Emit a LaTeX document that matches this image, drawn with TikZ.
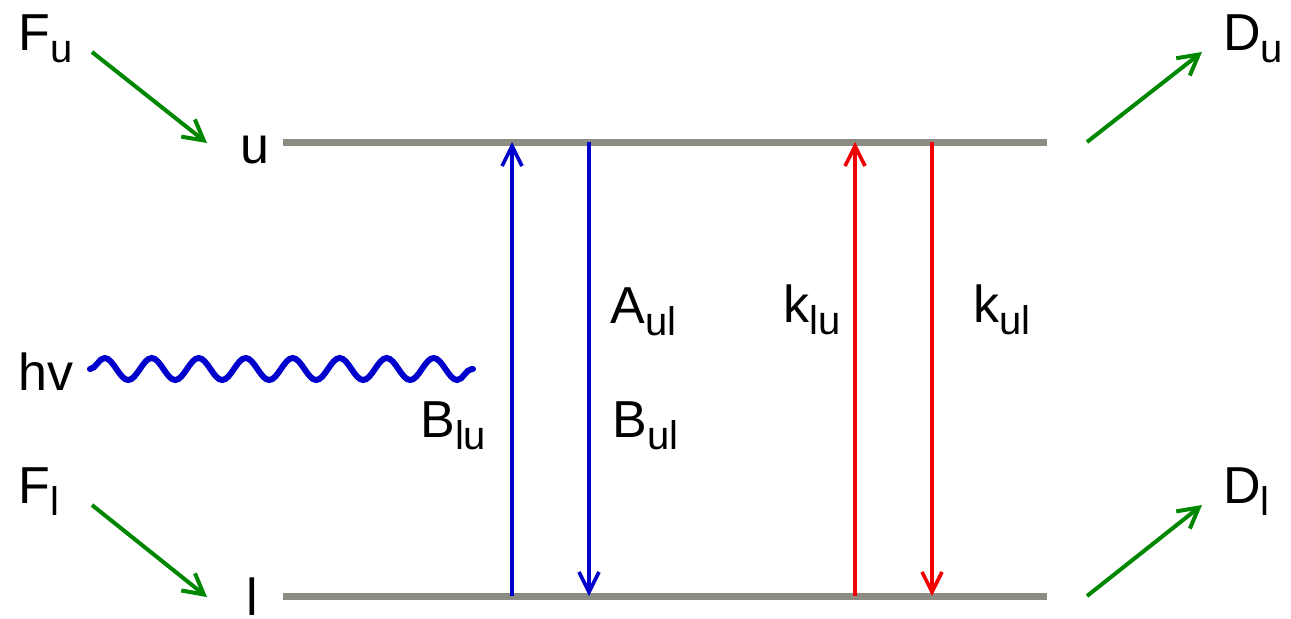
\documentclass[tikz,border=0pt]{standalone}
\usepackage{fontspec}
\setmainfont{Liberation Sans}
\usepackage{tikz}
\usetikzlibrary{
    arrows.meta,
    decorations.pathmorphing
}

\definecolor{levelgray}{RGB}{140,140,130}
\definecolor{flowgreen}{RGB}{0,135,0}
\definecolor{radblue}{RGB}{0,0,205}
\definecolor{collred}{RGB}{240,0,0}

\newcommand{\lo}[1]{\raisebox{-6pt}{\fontsize{20}{20}\selectfont #1}}

\tikzset{
    lbl/.style={anchor=base west,inner sep=0pt,font=\fontsize{26}{30}\selectfont},
    level/.style={levelgray,line width=3.5pt},
    flow/.style={flowgreen,line width=2pt,-{Straight Barb[length=10pt,width=11pt]}},
    trans/.style={line width=1.8pt,-{Straight Barb[length=10pt,width=10pt]}}
}

\begin{document}
\begin{tikzpicture}[x=0.5pt,y=-0.5pt]
\useasboundingbox (0,0) rectangle (1291,618);

% Energy levels
\coordinate (u0) at (283,142);
\coordinate (u1) at (1047,142);
\coordinate (l0) at (283,596);
\coordinate (l1) at (1047,596);
\draw[level] (u0) -- (u1);
\draw[level] (l0) -- (l1);
\node[lbl] (ulbl) at (240,163) {u};
\node[lbl] (llbl) at (246,615) {l};

% Formation and destruction
\node[lbl] (fu) at (18,50) {F\lo{u}};
\node[lbl] (fl) at (18,503) {F\lo{l}};
\node[lbl] (du) at (1223,50) {D\lo{u}};
\node[lbl] (dl) at (1223,503) {D\lo{l}};
\coordinate (fu0) at (92,52);
\coordinate (fu1) at (207,143);
\coordinate (fl0) at (92,505);
\coordinate (fl1) at (207,597);
\coordinate (du0) at (1087,142);
\coordinate (du1) at (1202,52);
\coordinate (dl0) at (1087,596);
\coordinate (dl1) at (1202,505);
\draw[flow] (fu0) -- (fu1);
\draw[flow] (fl0) -- (fl1);
\draw[flow] (du0) -- (du1);
\draw[flow] (dl0) -- (dl1);

% Photon
\node[lbl] (hv) at (18,390) {hv};
\coordinate (w0) at (90,369);
\coordinate (w1) at (473,369);
\draw[radblue,line width=3pt,line cap=round,
      decorate,decoration={snake,segment length=23.5pt,amplitude=5.5pt}] (w0) -- (w1);

% Radiative transitions
\coordinate (bu) at (512,142);
\coordinate (bl) at (512,596);
\coordinate (au) at (589,142);
\coordinate (al) at (589,596);
\draw[trans,radblue] (bl) -- (bu);
\draw[trans,radblue] (au) -- (al);
\node[lbl] (blu) at (420,437) {B\lo{lu}};
\node[lbl] (aul) at (610,323) {A\lo{ul}};
\node[lbl] (bul) at (612,437) {B\lo{ul}};

% Collisional transitions
\coordinate (ku) at (855,142);
\coordinate (kl) at (855,596);
\coordinate (cu) at (932,142);
\coordinate (cl) at (932,596);
\draw[trans,collred] (kl) -- (ku);
\draw[trans,collred] (cu) -- (cl);
\node[lbl] (klu) at (783,322) {k\lo{lu}};
\node[lbl] (kul) at (973,322) {k\lo{ul}};

\end{tikzpicture}
\end{document}
